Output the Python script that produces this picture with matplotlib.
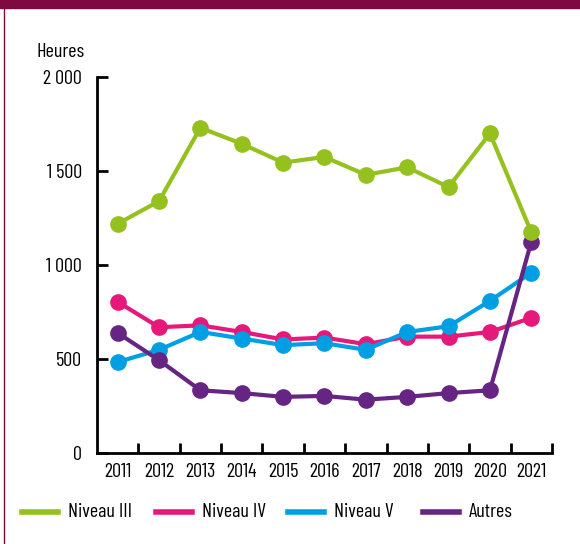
import matplotlib
matplotlib.use("Agg")
import matplotlib.pyplot as plt
from matplotlib.lines import Line2D
from matplotlib.patches import Rectangle

# data
years = ["2011", "2012", "2013", "2014", "2015", "2016", "2017", "2018", "2019", "2020", "2021"]
niveau_iii = [1220, 1340, 1730, 1645, 1545, 1575, 1480, 1520, 1415, 1700, 1175]
niveau_iv = [805, 670, 680, 645, 605, 615, 580, 620, 620, 645, 720]
niveau_v = [485, 550, 645, 610, 575, 585, 550, 645, 675, 810, 960]
autres = [640, 495, 335, 320, 300, 305, 285, 300, 320, 335, 1125]
yticks = [0, 500, 1000, 1500, 2000]
ytick_labels = ["0", "500", "1 000", "1 500", "2 000"]

green = "#95C11F"
pink = "#E6197A"
blue = "#009FE3"
purple = "#662483"
maroon = "#7E0A40"

plt.rcParams["font.family"] = ["Barlow Condensed", "Archivo Narrow", "Liberation Sans", "DejaVu Sans"]

fig = plt.figure(figsize=(5.8, 5.44), dpi=100)
ax = fig.add_axes([0.1672, 0.1667, 0.7845, 0.6918])

x = list(range(len(years)))
series = [
    ("Niveau IV", niveau_iv, pink),
    ("Niveau V", niveau_v, blue),
    ("Autres", autres, purple),
    ("Niveau III", niveau_iii, green),
]
for name, vals, col in series:
    ax.plot(x, vals, color=col, lw=3, marker="o", ms=11, solid_joinstyle="round", clip_on=False)

ax.set_xlim(-0.5, len(years) - 0.5)
ax.set_ylim(0, 2000)

ax.spines["top"].set_visible(False)
ax.spines["right"].set_visible(False)
for s in ["left", "bottom"]:
    ax.spines[s].set_linewidth(2)
    ax.spines[s].set_capstyle("projecting")

ax.set_yticks(yticks)
ax.set_yticklabels(ytick_labels)
ax.tick_params(axis="y", direction="in", length=8, width=2, pad=11, labelsize=14.5)

ax.set_xticks(x)
ax.set_xticklabels(years)
ax.set_xticks([i + 0.5 for i in x], minor=True)
ax.tick_params(axis="x", which="major", length=0, pad=7, labelsize=14.5)
ax.tick_params(axis="x", which="minor", direction="in", length=7, width=2)

fig.text(36 / 580, 1 - 52 / 544, "Heures", fontsize=14.5, ha="left", va="center")

# frame decorations
fig.patches.append(Rectangle((0, 1 - 8 / 544), 1, 8 / 544, transform=fig.transFigure,
                             color=maroon, zorder=0))
fig.add_artist(Line2D([4 / 580, 4 / 580], [0, 1], transform=fig.transFigure, color=maroon, lw=1))

# legend laid out by hand, entries placed like the original
labels = ["Niveau III", "Niveau IV", "Niveau V", "Autres"]
colors = [green, pink, blue, purple]
starts = [22, 156, 288, 423]
ly = 1 - 512 / 544
for lab, col, x0 in zip(labels, colors, starts):
    fig.add_artist(Line2D([x0 / 580, (x0 + 36) / 580], [ly, ly], transform=fig.transFigure,
                          color=col, lw=4))
    fig.text((x0 + 46) / 580, ly, lab, fontsize=14.5, ha="left", va="center")

fig.savefig("out.png", dpi=100)
